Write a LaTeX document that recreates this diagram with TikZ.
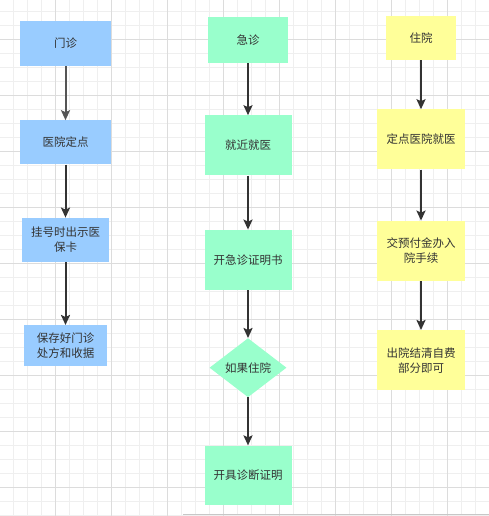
\documentclass[tikz,border=0pt]{standalone}
\usepackage{fontspec}
\newfontfamily\cjk{Noto Sans CJK SC}
\usetikzlibrary{positioning, shapes.geometric, arrows.meta}
\definecolor{outpatblue}{HTML}{99CCFF}
\definecolor{emergreen}{HTML}{99FFCC}
\definecolor{inpatyellow}{HTML}{FFFF99}
\definecolor{textgray}{HTML}{333333}
\definecolor{arrowgray}{HTML}{555555}
\definecolor{gridminor}{HTML}{EFEFEF}
\definecolor{gridmajor}{HTML}{DCDCDC}

\begin{document}
\begin{tikzpicture}[
    x=1pt, y=-1pt,
    every node/.style={font=\cjk\fontsize{11.5}{15}\selectfont, text=textgray, align=center, inner sep=0pt},
    outpat/.style={fill=outpatblue,  minimum width=91pt, minimum height=44pt},
    emerg/.style ={fill=emergreen,   minimum width=87pt, minimum height=60pt},
    inpat/.style ={fill=inpatyellow, minimum width=88pt, minimum height=60pt},
    choice/.style={fill=emergreen, diamond, minimum width=77pt, minimum height=59pt},
    arrow/.style ={-{Stealth[length=10pt, width=9pt, inset=2pt]}, line width=2pt, draw=textgray}
]
% background grid
\fill[white] (0,0) rectangle (489,516);
\useasboundingbox (0,0) rectangle (489,516);
\foreach \i in {0,...,34} \draw[gridminor, line width=0.6pt] ({13.7+14*\i},0) -- ++(0,516);
\foreach \j in {0,...,36} \draw[gridminor, line width=0.6pt] (0,{11.7+14*\j}) -- ++(489,0);
\foreach \i in {0,...,8} \draw[gridmajor, line width=0.6pt] ({55.7+56*\i},0) -- ++(0,516);
\foreach \j in {0,...,8} \draw[gridmajor, line width=0.6pt] (0,{39.7+56*\j}) -- ++(489,0);
\draw[black!22, line width=1pt] (183,514) -- (489,514);

% Column 1: outpatient
\node[outpat, minimum height=45pt] (mz) at (65.5,43.5) {门诊};
\node[outpat, below=54pt of mz] (ddyy) {医院定点};
\node[outpat, below=53pt of ddyy, minimum width=87pt] (gh) {挂号时出示医\\保卡};
\node[outpat, below=63pt of gh, minimum width=83pt, minimum height=41pt] (bc) {保存好门诊\\处方和收据};

% Column 2: emergency
\node[emerg, minimum width=80pt, minimum height=46pt] (jz) at (248,40) {急诊};
\node[emerg, below=52pt of jz] (jjjy) {就近就医};
\node[emerg, below=54pt of jjjy] (zm) {开急诊证明书};
\node[choice, below=48pt of zm] (ruzy) {如果住院};
\node[emerg, below=48pt of ruzy, minimum height=59pt] (zdzm) {开具诊断证明};

% Column 3: inpatient
\node[inpat, minimum width=70pt, minimum height=44pt] (zy) at (421,38) {住院};
\node[inpat, below=49pt of zy] (ddjy) {定点医院就医};
\node[inpat, below=51pt of ddjy] (yfj) {交预付金办入\\院手续};
\node[inpat, below=49pt of yfj] (cy) {出院结清自费\\部分即可};

% Arrows
\draw[arrow, draw=arrowgray] (mz) -- (ddyy);
\draw[arrow] (ddyy) -- (gh);
\draw[arrow] (gh)   -- (bc);
\draw[arrow] (jz)   -- (jjjy);
\draw[arrow] (jjjy) -- (zm);
\draw[arrow] (zm)   -- (ruzy);
\draw[arrow] (ruzy) -- (zdzm);
\draw[arrow] (zy)   -- (ddjy);
\draw[arrow] (ddjy) -- (yfj);
\draw[arrow] (yfj)  -- (cy);

\end{tikzpicture}
\end{document}
